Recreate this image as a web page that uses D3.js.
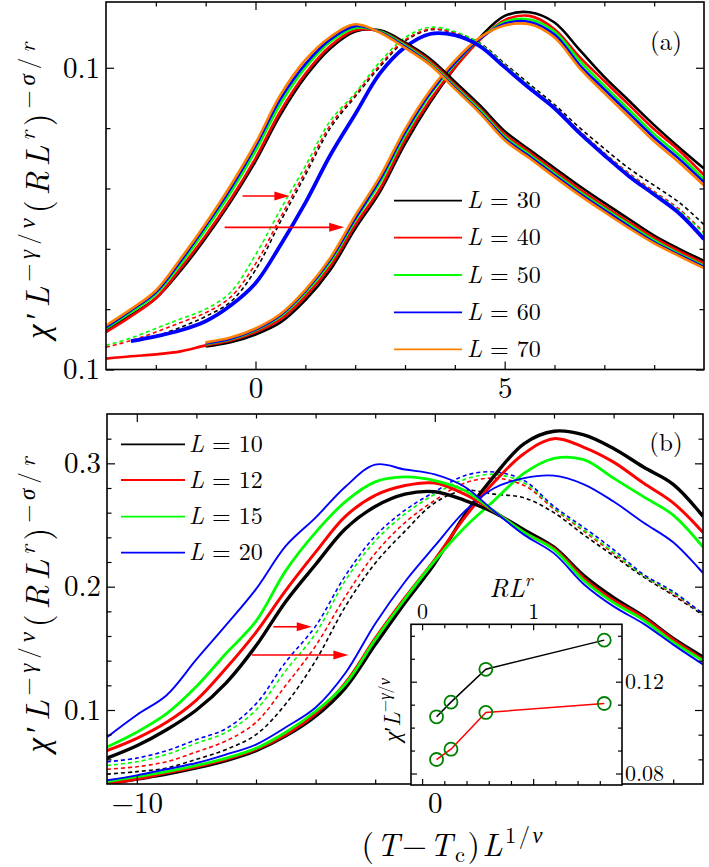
<!DOCTYPE html>
<html><head><meta charset="utf-8">
<script src="https://cdn.jsdelivr.net/npm/d3@7"></script>
<style>body{margin:0;background:#fff}svg{display:block}</style>
</head><body><svg id="c" width="709" height="867"></svg>
<script>
// ---------------- DATA ----------------
// Panel (a): x = (T-Tc)L^{1/nu}
const aX = [-3,-2.5,-2,-1.5,-1,-0.5,0,0.5,1,1.5,2,2.5,3,3.5,4,4.5,5,5.5,6,6.5,7,7.5,8,8.5,9];
// group A (solid, left peak)
const aA30 = [0.0565,0.0590,0.0618,0.0664,0.0718,0.0778,0.0845,0.0922,0.0985,0.1032,0.1060,0.1062,0.1042,0.1015,0.0977,0.0938,0.0895,0.0864,0.0834,0.0804,0.0776,0.0749,0.0722,0.0700,0.0680];
const aA40 = [0.0562,0.0588,0.0618,0.0668,0.0722,0.0782,0.0850,0.0928,0.0990,0.1036,0.1062,0.1060,0.1039,0.1011,0.0972,0.0933,0.0890,0.0860,0.0829,0.0799,0.0771,0.0744,0.0718,0.0696,0.0676];
const aA50 = [0.0568,0.0595,0.0625,0.0675,0.0732,0.0793,0.0862,0.0940,0.1000,0.1043,0.1066,0.1060,0.1037,0.1008,0.0969,0.0930,0.0886,0.0856,0.0825,0.0795,0.0767,0.0740,0.0714,0.0692,0.0672];
const aA60 = [0.0570,0.0598,0.0628,0.0680,0.0738,0.0800,0.0870,0.0948,0.1006,0.1047,0.1069,0.1059,0.1035,0.1006,0.0967,0.0927,0.0883,0.0853,0.0822,0.0792,0.0764,0.0737,0.0711,0.0690,0.0670];
const aA70 = [0.0573,0.0600,0.0631,0.0684,0.0742,0.0805,0.0875,0.0955,0.1013,0.1051,0.1072,0.1058,0.1033,0.1005,0.0965,0.0925,0.0880,0.0850,0.0819,0.0789,0.0761,0.0734,0.0709,0.0688,0.0668];
// group B (middle peak; dashed except L=60)
const aB30 = [null,null,0.0555,0.0570,0.0588,0.0612,0.0665,0.0745,0.0822,0.0900,0.0952,0.1002,0.1044,0.1063,0.1058,0.1041,0.1007,0.0973,0.0939,0.0901,0.0866,0.0833,0.0805,0.0777,0.0740];
const aB40 = [0.0537,0.0548,0.0562,0.0578,0.0594,0.0620,0.0675,0.0752,0.0828,0.0905,0.0955,0.1005,0.1046,0.1064,0.1058,0.1040,0.1005,0.0970,0.0935,0.0896,0.0859,0.0825,0.0795,0.0766,0.0727];
const aB50 = [0.0540,0.0552,0.0568,0.0584,0.0600,0.0628,0.0690,0.0765,0.0837,0.0912,0.0958,0.1010,0.1050,0.1067,0.1060,0.1040,0.1005,0.0970,0.0935,0.0895,0.0858,0.0823,0.0793,0.0764,0.0725];
const aB60 = [null,0.0547,0.0555,0.0565,0.0580,0.0606,0.0643,0.0706,0.0776,0.0855,0.0923,0.0991,0.1034,0.1056,0.1054,0.1036,0.1001,0.0966,0.0933,0.0892,0.0855,0.0820,0.0790,0.0759,0.0716];
// group C (solid, right peak)
const aC30 = [null,null,null,null,0.0538,0.0545,0.0558,0.0578,0.0615,0.0665,0.0733,0.0795,0.0874,0.0942,0.1000,0.1050,0.1086,0.1092,0.1075,0.1030,0.0985,0.0945,0.0905,0.0868,0.0833];
const aC40 = [0.0518,0.0522,0.0525,0.0530,0.0540,0.0548,0.0562,0.0583,0.0621,0.0671,0.0739,0.0800,0.0880,0.0946,0.1000,0.1046,0.1079,0.1086,0.1064,0.1018,0.0978,0.0938,0.0898,0.0863,0.0822];
const aC50 = [null,null,null,null,0.0542,0.0550,0.0565,0.0588,0.0627,0.0678,0.0747,0.0810,0.0888,0.0955,0.1006,0.1048,0.1076,0.1080,0.1060,0.1012,0.0970,0.0930,0.0890,0.0855,0.0815];
const aC60 = [null,null,null,null,0.0543,0.0551,0.0566,0.0590,0.0630,0.0682,0.0750,0.0815,0.0893,0.0958,0.1008,0.1048,0.1073,0.1076,0.1055,0.1005,0.0964,0.0924,0.0884,0.0849,0.0810];
const aC70 = [null,null,null,null,0.0545,0.0553,0.0568,0.0592,0.0632,0.0685,0.0755,0.0820,0.0898,0.0962,0.1012,0.1050,0.1070,0.1072,0.1050,0.1000,0.0958,0.0918,0.0878,0.0843,0.0805];
const aLegend = ["30","40","50","60","70"];
const aXTicks = [0,5], aXTickLabels = ["0","5"];
const aXMinor = [-2,-1,1,2,3,4,6,7,8];
const aYTicks = [0.05,0.1], aYTickLabels = ["0.1","0.1"];
const aYMinor = [0.06,0.07,0.08,0.09];
const aArrows = [[-0.26,0.68,0.07875],[-0.62,1.78,0.07356]];

// Panel (b)
const bX = [-11,-10,-9,-8,-7,-6,-5,-4,-3,-2,-1,0,1,2,3,4,5,6,7,8,9];
const bA10 = [0.061,0.071,0.084,0.100,0.122,0.152,0.188,0.218,0.247,0.265,0.275,0.277,0.270,0.260,0.246,0.232,0.209,0.191,0.176,0.158,0.143];
const bA12 = [0.067,0.077,0.090,0.108,0.134,0.163,0.197,0.228,0.257,0.274,0.282,0.284,0.275,0.261,0.244,0.231,0.207,0.189,0.175,0.157,0.141];
const bA15 = [0.070,0.082,0.097,0.119,0.146,0.172,0.213,0.244,0.269,0.285,0.289,0.286,0.278,0.261,0.244,0.230,0.205,0.187,0.173,0.155,0.140];
const bA20 = [0.078,0.096,0.112,0.141,0.169,0.198,0.233,0.256,0.281,0.299,0.295,0.291,0.281,0.261,0.242,0.227,0.202,0.184,0.170,0.153,0.137];
const bB10 = [0.048,0.050,0.053,0.060,0.068,0.080,0.105,0.140,0.184,0.219,0.245,0.268,0.278,0.275,0.272,0.260,0.242,0.225,0.208,0.193,0.177];
const bB12 = [0.052,0.054,0.058,0.066,0.075,0.090,0.120,0.152,0.192,0.227,0.252,0.270,0.284,0.288,0.282,0.263,0.245,0.227,0.209,0.194,0.178];
const bB15 = [0.055,0.058,0.064,0.073,0.082,0.100,0.132,0.162,0.205,0.237,0.259,0.275,0.287,0.291,0.284,0.264,0.246,0.228,0.209,0.195,0.178];
const bB20 = [0.058,0.061,0.067,0.076,0.085,0.105,0.139,0.168,0.209,0.241,0.262,0.277,0.290,0.293,0.286,0.265,0.248,0.230,0.210,0.196,0.178];
const bC10 = [0.040,0.044,0.048,0.053,0.059,0.067,0.079,0.095,0.118,0.153,0.187,0.219,0.258,0.290,0.316,0.326,0.323,0.312,0.297,0.283,0.257];
const bC12 = [0.040,0.044,0.049,0.054,0.060,0.068,0.080,0.097,0.122,0.158,0.191,0.222,0.256,0.285,0.308,0.320,0.313,0.301,0.284,0.268,0.244];
const bC15 = [0.042,0.046,0.050,0.055,0.061,0.069,0.082,0.099,0.121,0.157,0.190,0.221,0.248,0.270,0.292,0.304,0.303,0.288,0.273,0.258,0.232];
const bC20 = [0.043,0.047,0.052,0.057,0.064,0.072,0.086,0.102,0.130,0.170,0.204,0.233,0.261,0.280,0.288,0.290,0.283,0.269,0.252,0.236,0.211];
const bLegend = ["10","12","15","20"];
const bXTicks = [-10,0], bXTickLabels = ["\u221210","0"];
const bXMinor = [-8,-6,-4,-2,2,4,6,8];
const bYTicks = [0.1,0.2,0.3], bYTickLabels = ["0.1","0.2","0.3"];
const bYMinor = [0.06,0.08,0.12,0.14,0.16,0.18,0.22,0.24,0.26,0.28,0.32];
const bArrows = [[-5.42,-4.13,0.1675],[-6.14,-2.90,0.1446]];

// Inset
const inRL = [0.13,0.26,0.574,1.64];
const inBlack = [0.1047,0.1111,0.1254,0.1381];
const inRed = [0.0861,0.0906,0.1066,0.1105];
const inXTicks = [0,1], inXTickLabels = ["0","1"];
const inXMinor = [0.2,0.4,0.6,0.8,1.2,1.4,1.6];
const inYTicks = [0.08,0.12], inYTickLabels = ["0.08","0.12"];
const inYMinor = [0.09,0.10,0.11,0.13,0.14];

// ---------------- DRAW ----------------
const FONT = "Latin Modern Roman";
const COL = {black:"#000000", red:"#ff0000", green:"#00ff00", blue:"#0000ff", orange:"#ff8000"};
const svg = d3.select("#c");
svg.append("rect").attr("width",709).attr("height",867).attr("fill","#fff");
const defs = svg.append("defs");

function clip(id, xs, ys){
  defs.append("clipPath").attr("id",id).append("rect")
    .attr("x",xs.range()[0]).attr("y",ys.range()[1])
    .attr("width",xs.range()[1]-xs.range()[0]).attr("height",ys.range()[0]-ys.range()[1]);
}

function drawSeries(g, xs, ys, xv, yv, st){
  const pts = xv.map((x,i)=>[x,yv[i]]);
  const line = d3.line().defined(d=>d[1]!=null).x(d=>xs(d[0])).y(d=>ys(d[1])).curve(d3.curveCatmullRom.alpha(0.5));
  g.append("path").attr("d",line(pts)).attr("fill","none").attr("stroke",st.c)
   .attr("stroke-width",st.w).attr("stroke-dasharray",st.dash||null).attr("stroke-linejoin","round");
}

function axes(g, xs, ys, o){
  const [x0,x1]=xs.range(), [y0,y1]=ys.range();
  const ax = (gen, vals, size, tf, tr, pad)=>{
    const a = gen.tickValues(vals).tickSize(size).tickPadding(pad||0).tickFormat(tf||"");
    const s = g.append("g").attr("transform",tr).call(a);
    s.select(".domain").remove();
    s.attr("font-family",FONT).attr("font-size",o.fs||28);
    s.selectAll("line").attr("stroke","#000").attr("stroke-width",1.2);
    s.selectAll("text").attr("fill","#000");
    return s;
  };
  const maj = o.maj, mn = o.minor;
  const xl = d=>o.xLabels[o.xTicks.indexOf(d)];
  const yl = d=>o.yLabels[o.yTicks.indexOf(d)];
  ax(d3.axisBottom(xs), o.xMinor, -mn, null, `translate(0,${y0})`);
  ax(d3.axisBottom(xs), o.xTicks, -maj, o.xBottomLabels?xl:"", `translate(0,${y0})`, o.xPad);
  ax(d3.axisTop(xs), o.xMinor, -mn, null, `translate(0,${y1})`);
  ax(d3.axisTop(xs), o.xTicks, -maj, o.xTopLabels?xl:"", `translate(0,${y1})`, o.xPad);
  ax(d3.axisLeft(ys), o.yMinor, -mn, null, `translate(${x0},0)`);
  ax(d3.axisLeft(ys), o.yTicks, -maj, o.yLeftLabels?yl:"", `translate(${x0},0)`, o.yPad);
  ax(d3.axisRight(ys), o.yMinor, -mn, null, `translate(${x1},0)`);
  ax(d3.axisRight(ys), o.yTicks, -maj, o.yRightLabels?yl:"", `translate(${x1},0)`, o.yPad);
  g.append("rect").attr("x",x0).attr("y",y1).attr("width",x1-x0).attr("height",y0-y1)
   .attr("fill","none").attr("stroke","#000").attr("stroke-width",1.6);
}

function arrows(g, xs, ys, list){
  list.forEach(([a,b,y])=>{
    const X0=xs(a), X1=xs(b), Y=ys(y);
    g.append("line").attr("x1",X0).attr("x2",X1-12).attr("y1",Y).attr("y2",Y).attr("stroke",COL.red).attr("stroke-width",1.6);
    g.append("path").attr("d",`M${X1},${Y}L${X1-15},${Y-4.5}L${X1-15},${Y+4.5}Z`).attr("fill",COL.red);
  });
}

// rich text: parts = [[text, italic, level]] level 0 normal, 1 sup, -1 sub
function rich(g, parts, fs, attrs){
  const t = g.append("text").attr("font-family",FONT).attr("font-size",fs).attr("fill","#000");
  Object.entries(attrs).forEach(([k,v])=>t.attr(k,v));
  let cur = 0;
  parts.forEach(([s,it,lv])=>{
    const sz = lv===0?fs:fs*0.7;
    const off = lv===1? -0.42*fs : (lv===-1? 0.2*fs : 0);
    t.append("tspan").attr("dy", off-cur).attr("font-size",sz)
      .attr("font-style",it?"italic":"normal").text(s);
    cur = off;
  });
  return t;
}

const yLabParts = [["χ",true,0],["′",false,0],["L",true,0],["−",false,1],["γ",true,1],["/",false,1],["ν",true,1],
  ["(",false,0],["R",true,0],["L",true,0],["r",true,1],[")",false,0],["−",false,1],["σ",true,1],["/",false,1],["r",true,1]];

function legend(g, labels, colors, x0, x1, ys, tx){
  labels.forEach((lab,i)=>{
    g.append("line").attr("x1",x0).attr("x2",x1).attr("y1",ys[i]).attr("y2",ys[i]).attr("stroke",colors[i]).attr("stroke-width",1.8);
    const t = g.append("text").attr("x",tx).attr("y",ys[i]+7.5).attr("font-family",FONT).attr("font-size",24);
    t.append("tspan").attr("font-style","italic").text("L");
    t.append("tspan").attr("dx",8).text("=");
    t.append("tspan").attr("dx",8).text(lab);
  });
}

// ===== Panel (a)
const xa = d3.scaleLinear().domain([-3,9]).range([106,704]);
const ya = d3.scaleLinear().domain([0.05,0.1109]).range([369.5,2]);
clip("ca", xa, ya);
const ga = svg.append("g");
const gac = ga.append("g").attr("clip-path","url(#ca)");
const SW=2.6;
[[aC30,COL.black],[aC40,COL.red],[aC50,COL.green],[aC60,COL.blue],[aC70,COL.orange]].forEach(([s,c])=>drawSeries(gac,xa,ya,aX,s,{c,w:SW}));
[[aB30,COL.black],[aB40,COL.red],[aB50,COL.green]].forEach(([s,c])=>drawSeries(gac,xa,ya,aX,s,{c,w:1.6,dash:"4,3"}));
drawSeries(gac,xa,ya,aX,aB60,{c:COL.blue,w:3.8});
[[aA30,COL.black],[aA40,COL.red],[aA50,COL.green],[aA60,COL.blue],[aA70,COL.orange]].forEach(([s,c])=>drawSeries(gac,xa,ya,aX,s,{c,w:SW}));
arrows(ga, xa, ya, aArrows);
axes(ga, xa, ya, {maj:8, minor:4.5, xTicks:aXTicks, xLabels:aXTickLabels, xMinor:aXMinor, yTicks:aYTicks, yLabels:aYTickLabels, yMinor:aYMinor,
  xBottomLabels:true, yLeftLabels:true, xPad:8, yPad:6, fs:29});
legend(ga, aLegend, [COL.black,COL.red,COL.green,COL.blue,COL.orange], 394, 462, [200.7,237.7,275,312.3,349.3], 467);
ga.append("text").attr("x",666).attr("y",50).attr("text-anchor","middle").attr("font-family",FONT).attr("font-size",25).text("(a)");
rich(ga, yLabParts, 33, {transform:"translate(49,191) rotate(-90)","text-anchor":"middle", textLength:296, lengthAdjust:"spacing"});

// ===== Panel (b)
const xb = d3.scaleLinear().domain([-11,9]).range([107,703]);
const yb = d3.scaleLinear().domain([0.04,0.34]).range([784,414]);
clip("cb", xb, yb);
const gb = svg.append("g");
const gbc = gb.append("g").attr("clip-path","url(#cb)");
[[bB10,COL.black],[bB12,COL.red],[bB15,COL.green],[bB20,COL.blue]].forEach(([s,c])=>drawSeries(gbc,xb,yb,bX,s,{c,w:1.6,dash:"4,3"}));
const bW = [3.4,3.0,2.8,1.9];
[[bC10,COL.black],[bC12,COL.red],[bC15,COL.green],[bC20,COL.blue]].forEach(([s,c],i)=>drawSeries(gbc,xb,yb,bX,s,{c,w:bW[i]}));
[[bA10,COL.black],[bA12,COL.red],[bA15,COL.green],[bA20,COL.blue]].forEach(([s,c],i)=>drawSeries(gbc,xb,yb,bX,s,{c,w:bW[i]}));
arrows(gb, xb, yb, bArrows);
axes(gb, xb, yb, {maj:8, minor:4.5, xTicks:bXTicks, xLabels:bXTickLabels, xMinor:bXMinor, yTicks:bYTicks, yLabels:bYTickLabels, yMinor:bYMinor,
  xBottomLabels:true, yLeftLabels:true, xPad:8, yPad:6, fs:29});
legend(gb, bLegend, [COL.black,COL.red,COL.green,COL.blue], 121, 185, [444.3,480,516.7,552.7], 189);
gb.append("text").attr("x",666).attr("y",451).attr("text-anchor","middle").attr("font-family",FONT).attr("font-size",25).text("(b)");
rich(gb, yLabParts, 33, {transform:"translate(49,605) rotate(-90)","text-anchor":"middle", textLength:295, lengthAdjust:"spacing"});
rich(gb, [["(",false,0],["T",true,0],["−",false,0],["T",true,0],["c",false,-1],[")",false,0],["L",true,0],["1",false,1],["/",false,1],["ν",true,1]],
  32, {x:452, y:856, "text-anchor":"middle", textLength:181, lengthAdjust:"spacing"});

// ===== Inset
const xi = d3.scaleLinear().domain([-0.1,1.8]).range([411,622]);
const yi = d3.scaleLinear().domain([0.075,0.145]).range([785,624.3]);
const gi = svg.append("g");
gi.append("rect").attr("x",411).attr("y",624.3).attr("width",211).attr("height",160.7).attr("fill","#fff");
const ln = d3.line().x((d,i)=>xi(inRL[i])).y(d=>yi(d));
gi.append("path").attr("d",ln(inBlack)).attr("fill","none").attr("stroke","#000").attr("stroke-width",1.5);
gi.append("path").attr("d",ln(inRed)).attr("fill","none").attr("stroke",COL.red).attr("stroke-width",1.5);
[inBlack,inRed].forEach(arr=>arr.forEach((v,i)=>{
  gi.append("circle").attr("cx",xi(inRL[i])).attr("cy",yi(v)).attr("r",6.5).attr("fill","none").attr("stroke","#008000").attr("stroke-width",1.8);
}));
axes(gi, xi, yi, {maj:6, minor:4, xTicks:inXTicks, xLabels:inXTickLabels, xMinor:inXMinor, yTicks:inYTicks, yLabels:inYTickLabels, yMinor:inYMinor,
  xTopLabels:true, yRightLabels:true, xPad:5, yPad:3, fs:22});
rich(gi, [["R",true,0],["L",true,0],["r",true,1]], 26, {x:511, y:597, "text-anchor":"middle"});
rich(gi, [["χ",true,0],["′",false,0],["L",true,0],["−",false,1],["γ",true,1],["/",false,1],["ν",true,1]], 23,
  {transform:"translate(400,710) rotate(-90)","text-anchor":"middle"});
</script></body></html>
